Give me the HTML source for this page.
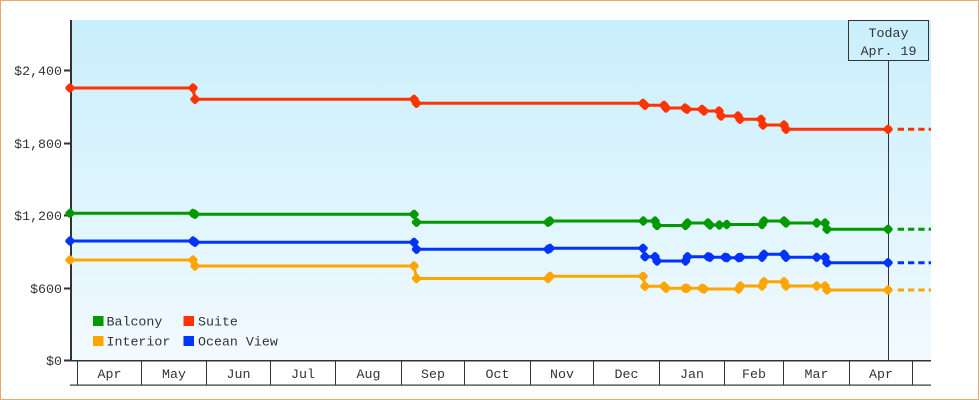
<!DOCTYPE html>
<html><head><meta charset="utf-8">
<style>
html,body{margin:0;padding:0;background:#fff;}
svg{display:block;}
text{font-family:"Liberation Mono","DejaVu Sans Mono",monospace;font-size:13.3px;fill:#333;}
</style></head>
<body>
<svg width="980" height="400" viewBox="0 0 980 400" xmlns="http://www.w3.org/2000/svg">
<defs>
<linearGradient id="bg" x1="0" y1="0" x2="0" y2="1">
<stop offset="0" stop-color="#c9effc"/>
<stop offset="1" stop-color="#f2faff"/>
</linearGradient>
<linearGradient id="bg2" gradientUnits="userSpaceOnUse" x1="0" y1="20" x2="0" y2="360">
<stop offset="0" stop-color="#c9effc"/>
<stop offset="1" stop-color="#f2faff"/>
</linearGradient>
<polygon id="m" points="-1,-4.6 1,-4.6 4.6,-1 4.6,1 1,4.6 -1,4.6 -4.6,1 -4.6,-1"/>
</defs>
<rect x="0" y="0" width="980" height="400" fill="#fff"/>
<rect x="0.5" y="0.5" width="978" height="399" fill="none" stroke="#e9aa62" stroke-width="1"/>
<!-- plot area -->
<rect x="72" y="20" width="859" height="340" fill="url(#bg2)"/>

<!-- y axis -->
<rect x="70" y="20" width="2" height="341" fill="#333"/>
<g fill="#333">
<rect x="64" y="69.5" width="6" height="2"/>
<rect x="64" y="142.5" width="6" height="2"/>
<rect x="64" y="214.5" width="6" height="2"/>
<rect x="64" y="287.5" width="6" height="2"/>
<rect x="64" y="359.5" width="6" height="2"/>
</g>
<g text-anchor="end">
<text x="62" y="75">$2,400</text>
<text x="62" y="148">$1,800</text>
<text x="62" y="220">$1,200</text>
<text x="62" y="293">$600</text>
<text x="62" y="365">$0</text>
</g>

<!-- x axis boxes -->
<rect x="70" y="360" width="861" height="1.5" fill="#333"/>
<rect x="70" y="384.5" width="861" height="1.2" fill="#333"/>
<g fill="#333">
<rect x="77" y="360" width="1" height="25"/>
<rect x="141" y="360" width="1" height="25"/>
<rect x="206" y="360" width="1" height="25"/>
<rect x="270" y="360" width="1" height="25"/>
<rect x="335" y="360" width="1" height="25"/>
<rect x="401" y="360" width="1" height="25"/>
<rect x="464" y="360" width="1" height="25"/>
<rect x="530" y="360" width="1" height="25"/>
<rect x="593" y="360" width="1" height="25"/>
<rect x="659" y="360" width="1" height="25"/>
<rect x="724" y="360" width="1" height="25"/>
<rect x="783" y="360" width="1" height="25"/>
<rect x="849" y="360" width="1" height="25"/>
<rect x="912" y="360" width="1" height="25"/>
</g>
<g text-anchor="middle">
<text x="109.5" y="378">Apr</text>
<text x="174" y="378">May</text>
<text x="238.5" y="378">Jun</text>
<text x="303" y="378">Jul</text>
<text x="368.5" y="378">Aug</text>
<text x="433" y="378">Sep</text>
<text x="497.5" y="378">Oct</text>
<text x="562" y="378">Nov</text>
<text x="626.5" y="378">Dec</text>
<text x="692" y="378">Jan</text>
<text x="754" y="378">Feb</text>
<text x="816.5" y="378">Mar</text>
<text x="881" y="378">Apr</text>
</g>

<!-- today -->
<rect x="888" y="60" width="1" height="300" fill="#333"/>
<rect x="848.5" y="20.5" width="80" height="40" fill="url(#bg2)" stroke="#333" stroke-width="1"/>
<text x="888.5" y="37" text-anchor="middle">Today</text>
<text x="888.5" y="55" text-anchor="middle">Apr. 19</text>

<!-- Suite -->
<g fill="#ff3300" stroke="none">
<polyline fill="none" stroke="#ff3300" stroke-width="3" points="70,88 193,88 195,99.3 414,99.3 416.5,103.3 643,103.3 645,105.3 664,105.3 666,108 685,108 687,109.3 702,109.3 704,111 719,111 721,116 738,116 740,119.3 761,119.3 763,125 784,125 786,129.3 888,129.3"/>
<line x1="897.7" y1="129.3" x2="931" y2="129.3" stroke="#ff3300" stroke-width="3" stroke-dasharray="6.3 4"/>
<use href="#m" x="70" y="88"/><use href="#m" x="193" y="88"/><use href="#m" x="195" y="99.3"/>
<use href="#m" x="414" y="99.3"/><use href="#m" x="416.5" y="103.3"/>
<use href="#m" x="643" y="103.3"/><use href="#m" x="645" y="105.3"/>
<use href="#m" x="664" y="105.3"/><use href="#m" x="666" y="108"/>
<use href="#m" x="685" y="108"/><use href="#m" x="687" y="109.3"/>
<use href="#m" x="702" y="109.3"/><use href="#m" x="704" y="111"/>
<use href="#m" x="719" y="111"/><use href="#m" x="721" y="116"/>
<use href="#m" x="738" y="116"/><use href="#m" x="740" y="119.3"/>
<use href="#m" x="761" y="119.3"/><use href="#m" x="763" y="125"/>
<use href="#m" x="784" y="125"/><use href="#m" x="786" y="129.3"/>
<use href="#m" x="888" y="129.3"/>
</g>

<!-- Balcony -->
<g fill="#009900">
<polyline fill="none" stroke="#009900" stroke-width="3" points="70,213.3 193,213.3 195,214.3 414,214.3 416.5,222.3 548,222.3 550,221 643.3,221 655,221 657,225.5 685.5,225.5 687.5,223 708,223 710,225 719.3,225 726.7,224.5 762,224.5 764,221 784,221 786,223 816.7,223 825,223 827,229.3 888,229.3"/>
<line x1="897.7" y1="229.3" x2="931" y2="229.3" stroke="#009900" stroke-width="3" stroke-dasharray="6.3 4"/>
<use href="#m" x="70" y="213.3"/><use href="#m" x="193" y="213.3"/><use href="#m" x="195" y="214.3"/>
<use href="#m" x="414" y="214.3"/><use href="#m" x="416.5" y="222.3"/>
<use href="#m" x="548" y="222.3"/><use href="#m" x="550" y="221"/>
<use href="#m" x="643.3" y="221"/>
<use href="#m" x="655" y="221"/><use href="#m" x="657" y="225.5"/>
<use href="#m" x="685.5" y="225.5"/><use href="#m" x="687.5" y="223"/>
<use href="#m" x="708" y="223"/><use href="#m" x="710" y="225"/>
<use href="#m" x="719.3" y="225"/><use href="#m" x="726.7" y="224.5"/>
<use href="#m" x="762" y="224.5"/><use href="#m" x="764" y="221"/>
<use href="#m" x="784" y="221"/><use href="#m" x="786" y="223"/>
<use href="#m" x="816.7" y="223"/>
<use href="#m" x="825" y="223"/><use href="#m" x="827" y="229.3"/>
<use href="#m" x="888" y="229.3"/>
</g>

<!-- Ocean View -->
<g fill="#0033ff">
<polyline fill="none" stroke="#0033ff" stroke-width="3" points="70,241 193,241 195,242.3 414,242.3 416.5,249.3 548,249.3 550,248.3 643,248.3 645,256.7 655,256.7 657,261 685.5,261 687.5,256.7 708,256.7 710,257.3 725,257.3 727,257.7 738.5,257.7 740.5,257.3 762,257.3 764,254.3 784,254.3 786,257.3 816.7,257.3 825,257.3 827,262.7 888,262.7"/>
<line x1="897.7" y1="262.7" x2="931" y2="262.7" stroke="#0033ff" stroke-width="3" stroke-dasharray="6.3 4"/>
<use href="#m" x="70" y="241"/><use href="#m" x="193" y="241"/><use href="#m" x="195" y="242.3"/>
<use href="#m" x="414" y="242.3"/><use href="#m" x="416.5" y="249.3"/>
<use href="#m" x="548" y="249.3"/><use href="#m" x="550" y="248.3"/>
<use href="#m" x="643" y="248.3"/><use href="#m" x="645" y="256.7"/>
<use href="#m" x="655" y="256.7"/><use href="#m" x="657" y="261"/>
<use href="#m" x="685.5" y="261"/><use href="#m" x="687.5" y="256.7"/>
<use href="#m" x="708" y="256.7"/><use href="#m" x="710" y="257.3"/>
<use href="#m" x="725" y="257.3"/><use href="#m" x="727" y="257.7"/>
<use href="#m" x="738.5" y="257.7"/><use href="#m" x="740.5" y="257.3"/>
<use href="#m" x="762" y="257.3"/><use href="#m" x="764" y="254.3"/>
<use href="#m" x="784" y="254.3"/><use href="#m" x="786" y="257.3"/>
<use href="#m" x="816.7" y="257.3"/>
<use href="#m" x="825" y="257.3"/><use href="#m" x="827" y="262.7"/>
<use href="#m" x="888" y="262.7"/>
</g>

<!-- Interior -->
<g fill="#ffa500">
<polyline fill="none" stroke="#ffa500" stroke-width="3" points="70,260 193,260 195,266 414,266 416.5,278.5 548,278.5 550,276.3 643,276.3 645,286.3 664,286.3 666,288.3 685,288.3 687,288.3 702,288.3 704,289 738.5,289 740.5,286 762,286 764,281.7 784,281.7 786,286 816.7,286 825,286 827,290 888,290"/>
<line x1="897.7" y1="290" x2="931" y2="290" stroke="#ffa500" stroke-width="3" stroke-dasharray="6.3 4"/>
<use href="#m" x="70" y="260"/><use href="#m" x="193" y="260"/><use href="#m" x="195" y="266"/>
<use href="#m" x="414" y="266"/><use href="#m" x="416.5" y="278.5"/>
<use href="#m" x="548" y="278.5"/><use href="#m" x="550" y="276.3"/>
<use href="#m" x="643" y="276.3"/><use href="#m" x="645" y="286.3"/>
<use href="#m" x="664" y="286.3"/><use href="#m" x="666" y="288.3"/>
<use href="#m" x="685" y="288.3"/><use href="#m" x="687" y="288.3"/>
<use href="#m" x="702" y="288.3"/><use href="#m" x="704" y="289"/>
<use href="#m" x="738.5" y="289"/><use href="#m" x="740.5" y="286"/>
<use href="#m" x="762" y="286"/><use href="#m" x="764" y="281.7"/>
<use href="#m" x="784" y="281.7"/><use href="#m" x="786" y="286"/>
<use href="#m" x="816.7" y="286"/>
<use href="#m" x="825" y="286"/><use href="#m" x="827" y="290"/>
<use href="#m" x="888" y="290"/>
</g>

<!-- legend -->
<rect x="93" y="316" width="10.5" height="10" fill="#009900"/>
<text x="106.5" y="325.5">Balcony</text>
<rect x="183.5" y="316" width="10.5" height="10" fill="#ff3300"/>
<text x="198" y="325.5">Suite</text>
<rect x="93" y="336" width="10.5" height="10" fill="#ffa500"/>
<text x="106.5" y="345.5">Interior</text>
<rect x="183.5" y="336" width="10.5" height="10" fill="#0033ff"/>
<text x="198" y="345.5">Ocean View</text>
</svg>
</body></html>
